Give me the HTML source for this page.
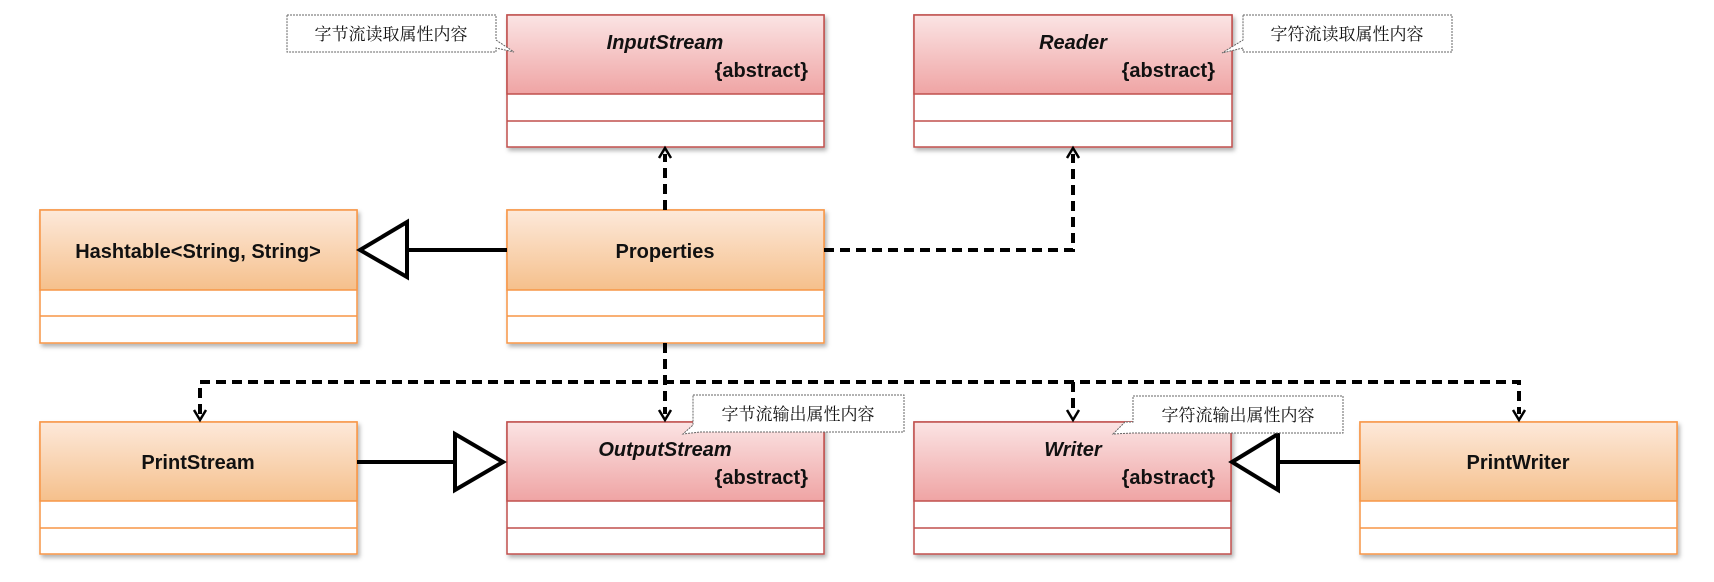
<!DOCTYPE html>
<html><head><meta charset="utf-8"><style>
html,body{margin:0;padding:0;background:#fff;width:1714px;height:582px;overflow:hidden}
svg text{font-family:"Liberation Sans","Noto Sans CJK SC",sans-serif}
.n{font-weight:bold;font-size:20px;fill:#111}
.c{font-family:"Liberation Serif","Noto Serif CJK SC",serif !important;font-size:17px;fill:#111}
</style></head><body>
<svg width="1714" height="582" viewBox="0 0 1714 582" xmlns="http://www.w3.org/2000/svg">
<defs>
<linearGradient id="pk" x1="0" y1="0" x2="0" y2="1"><stop offset="0" stop-color="#fbe4e4"/><stop offset="1" stop-color="#efa4a4"/></linearGradient>
<linearGradient id="or" x1="0" y1="0" x2="0" y2="1"><stop offset="0" stop-color="#fde9da"/><stop offset="1" stop-color="#f5c08c"/></linearGradient>
<filter id="sh" x="-5%" y="-5%" width="110%" height="115%"><feDropShadow dx="2" dy="3" stdDeviation="2" flood-color="#000" flood-opacity="0.3"/></filter>
</defs>

<g filter="url(#sh)">
<rect x="507" y="15" width="317" height="132" fill="#fff" stroke="#c0504d" stroke-width="1.5"/>
<rect x="507" y="15" width="317" height="79" fill="url(#pk)" stroke="#c0504d" stroke-width="1.5"/>
<line x1="507" y1="121" x2="824" y2="121" stroke="#c0504d" stroke-width="1.5"/>
<rect x="914" y="15" width="318" height="132" fill="#fff" stroke="#c0504d" stroke-width="1.5"/>
<rect x="914" y="15" width="318" height="79" fill="url(#pk)" stroke="#c0504d" stroke-width="1.5"/>
<line x1="914" y1="121" x2="1232" y2="121" stroke="#c0504d" stroke-width="1.5"/>
<rect x="40" y="210" width="317" height="133" fill="#fff" stroke="#f79646" stroke-width="1.5"/>
<rect x="40" y="210" width="317" height="80" fill="url(#or)" stroke="#f79646" stroke-width="1.5"/>
<line x1="40" y1="316" x2="357" y2="316" stroke="#f79646" stroke-width="1.5"/>
<rect x="507" y="210" width="317" height="133" fill="#fff" stroke="#f79646" stroke-width="1.5"/>
<rect x="507" y="210" width="317" height="80" fill="url(#or)" stroke="#f79646" stroke-width="1.5"/>
<line x1="507" y1="316" x2="824" y2="316" stroke="#f79646" stroke-width="1.5"/>
<rect x="40" y="422" width="317" height="132" fill="#fff" stroke="#f79646" stroke-width="1.5"/>
<rect x="40" y="422" width="317" height="79" fill="url(#or)" stroke="#f79646" stroke-width="1.5"/>
<line x1="40" y1="528" x2="357" y2="528" stroke="#f79646" stroke-width="1.5"/>
<rect x="507" y="422" width="317" height="132" fill="#fff" stroke="#c0504d" stroke-width="1.5"/>
<rect x="507" y="422" width="317" height="79" fill="url(#pk)" stroke="#c0504d" stroke-width="1.5"/>
<line x1="507" y1="528" x2="824" y2="528" stroke="#c0504d" stroke-width="1.5"/>
<rect x="914" y="422" width="317" height="132" fill="#fff" stroke="#c0504d" stroke-width="1.5"/>
<rect x="914" y="422" width="317" height="79" fill="url(#pk)" stroke="#c0504d" stroke-width="1.5"/>
<line x1="914" y1="528" x2="1231" y2="528" stroke="#c0504d" stroke-width="1.5"/>
<rect x="1360" y="422" width="317" height="132" fill="#fff" stroke="#f79646" stroke-width="1.5"/>
<rect x="1360" y="422" width="317" height="79" fill="url(#or)" stroke="#f79646" stroke-width="1.5"/>
<line x1="1360" y1="528" x2="1677" y2="528" stroke="#f79646" stroke-width="1.5"/>
</g>

<text class="n" x="665" y="49" text-anchor="middle" font-style="italic">InputStream</text>
<text class="n" x="808" y="77" text-anchor="end">{abstract}</text>
<text class="n" x="1073" y="49" text-anchor="middle" font-style="italic">Reader</text>
<text class="n" x="1215" y="77" text-anchor="end">{abstract}</text>
<text class="n" x="198" y="258" text-anchor="middle">Hashtable&lt;String, String&gt;</text>
<text class="n" x="665" y="258" text-anchor="middle">Properties</text>
<text class="n" x="198" y="469" text-anchor="middle">PrintStream</text>
<text class="n" x="665" y="456" text-anchor="middle" font-style="italic">OutputStream</text>
<text class="n" x="808" y="484" text-anchor="end">{abstract}</text>
<text class="n" x="1073" y="456" text-anchor="middle" font-style="italic">Writer</text>
<text class="n" x="1215" y="484" text-anchor="end">{abstract}</text>
<text class="n" x="1518" y="469" text-anchor="middle">PrintWriter</text>

<g stroke="#000" stroke-width="4" fill="#fff" stroke-linejoin="miter">
<line x1="407" y1="250" x2="507" y2="250"/>
<polygon points="360,250 407,222 407,277"/>
<line x1="357" y1="462" x2="455" y2="462"/>
<polygon points="503,462 455,434 455,490"/>
<line x1="1278" y1="462" x2="1360" y2="462"/>
<polygon points="1232,462 1278,434 1278,490"/>
</g>

<g stroke="#000" stroke-width="4" fill="none" stroke-dasharray="10,6">
<line x1="665" y1="210" x2="665" y2="154"/>
<polyline points="824,250 1073,250 1073,154"/>
<line x1="665" y1="343" x2="665" y2="414"/>
<polyline points="200,414 200,382 1519,382 1519,414"/>
<line x1="1073" y1="382" x2="1073" y2="414"/>
</g>
<g stroke="#000" stroke-width="2.5" fill="none">
<polyline points="659,158 665,148 671,158"/>
<polyline points="1067,158 1073,148 1079,158"/>
<polyline points="194,410 200,420 206,410"/>
<polyline points="659,410 665,420 671,410"/>
<polyline points="1067,410 1073,420 1079,410"/>
<polyline points="1513,410 1519,420 1525,410"/>
</g>

<g fill="#fff" stroke="#666" stroke-width="1" stroke-dasharray="2,1">
<path d="M287,15 H496 V40 L514,52 L496,48 V52 H287 Z"/>
<path d="M1243,15 H1452 V52 H1243 V48 L1222,53 L1243,40 Z"/>
<path d="M693,395 H904 V432 H700 L683,434 L693,425 Z"/>
<path d="M1133,396 H1343 V433 H1133 L1113,434 L1125,422 H1133 Z"/>
</g>
<text class="c" x="391" y="40" text-anchor="middle">字节流读取属性内容</text>
<text class="c" x="1347" y="40" text-anchor="middle">字符流读取属性内容</text>
<text class="c" x="798" y="420" text-anchor="middle">字节流输出属性内容</text>
<text class="c" x="1238" y="421" text-anchor="middle">字符流输出属性内容</text>
</svg>
</body></html>
